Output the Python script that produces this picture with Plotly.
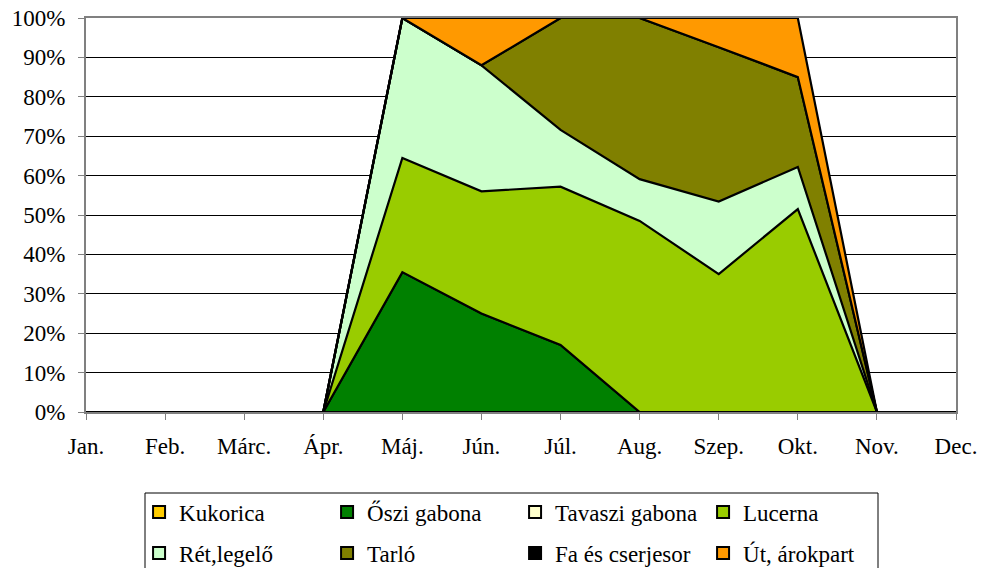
import plotly.graph_objects as go

months = ["Jan.", "Feb.", "Márc.", "Ápr.", "Máj.", "Jún.", "Júl.", "Aug.", "Szep.", "Okt.", "Nov.", "Dec."]

kukorica = [0, 0, 0, 0, 0, 0, 0, 0, 0, 0, 0, 0]
oszi_gabona = [0, 0, 0, 0, 35.5, 25, 17, 0, 0, 0, 0, 0]
tavaszi_gabona = [0, 0, 0, 0, 0, 0, 0, 0, 0, 0, 0, 0]
lucerna = [0, 0, 0, 0, 29, 31, 40.2, 48.5, 35, 51.5, 0, 0]
ret_legelo = [0, 0, 0, 0, 35.5, 32, 14.4, 10.6, 18.4, 10.7, 0, 0]
tarlo = [0, 0, 0, 0, 0, 0, 28.4, 40.9, 39.2, 22.8, 0, 0]
fa_cserjesor = [0, 0, 0, 0, 0, 0, 0, 0, 0, 0, 0, 0]
ut_arokpart = [0, 0, 0, 0, 0, 12, 0, 0, 7.4, 15, 0, 0]

series_names = ["Kukorica", "Őszi gabona", "Tavaszi gabona", "Lucerna",
                "Rét,legelő", "Tarló", "Fa és cserjesor", "Út, árokpart"]
series_values = [kukorica, oszi_gabona, tavaszi_gabona, lucerna,
                 ret_legelo, tarlo, fa_cserjesor, ut_arokpart]
series_colors = ["#FFCC00", "#008000", "#FFFFCC", "#99CC00",
                 "#CCFFCC", "#808000", "#000000", "#FF9900"]

FONT_FAMILY = "Liberation Serif, Times New Roman, serif"
font = dict(family=FONT_FAMILY, size=23, color="black")

fig = go.Figure()
x_idx = list(range(len(months)))
for name, vals, color in zip(series_names, series_values, series_colors):
    fig.add_trace(go.Scatter(
        x=x_idx, y=vals, name=name,
        mode="lines", stackgroup="one",
        line=dict(color="black", width=2.2),
        fillcolor=color, hoverinfo="skip", showlegend=False,
    ))

# legend-only square swatches, split into two rows (two legends)
for i, (name, color) in enumerate(zip(series_names, series_colors)):
    fig.add_trace(go.Scatter(
        x=[None], y=[None], name=name, mode="markers",
        marker=dict(symbol="square", size=12, color=color,
                    line=dict(color="black", width=2)),
        legend="legend" if i < 4 else "legend2",
        hoverinfo="skip",
    ))

legend_common = dict(
    orientation="h", xanchor="left", yanchor="middle",
    bgcolor="rgba(0,0,0,0)", borderwidth=0,
    entrywidth=143, entrywidthmode="pixels", itemwidth=30,
    font=font, traceorder="normal",
)

fig.update_layout(
    width=982, height=568,
    margin=dict(l=86, r=26, t=18, b=156, autoexpand=False),
    paper_bgcolor="white", plot_bgcolor="white",
    font=font,
    showlegend=True,
    legend=dict(x=0.061, y=(412 - 512) / 394, **legend_common),
    legend2=dict(x=0.061, y=(412 - 553) / 394, **legend_common),
    shapes=[dict(type="rect", xref="paper", yref="paper",
                 x0=(145 - 86) / 870, x1=(878 - 86) / 870,
                 y0=(412 - 575) / 394, y1=(412 - 493) / 394,
                 line=dict(color="black", width=1), fillcolor="rgba(0,0,0,0)",
                 layer="below")],
    xaxis=dict(
        tickmode="array", tickvals=x_idx, ticktext=months,
        range=[0, 11], showgrid=False, zeroline=False,
        showline=True, linecolor="#808080", linewidth=2, mirror=True,
        ticks="outside", ticklen=6, tickcolor="#808080", tickwidth=1,
        tickfont=font, ticklabelstandoff=6, fixedrange=True, automargin=False,
    ),
    yaxis=dict(
        range=[0, 100], tickvals=list(range(0, 101, 10)),
        ticktext=[f"{v}%" for v in range(0, 101, 10)],
        showgrid=True, gridcolor="black", gridwidth=1, zeroline=False,
        showline=True, linecolor="#808080", linewidth=2, mirror=True,
        ticks="outside", ticklen=6, tickcolor="#808080", tickwidth=1,
        tickfont=font, ticklabelstandoff=8, fixedrange=True, automargin=False,
    ),
)

# remove the default 8px body margin so the figure fills the window exactly
fig.write_html("out.html", config={"displayModeBar": False},
               post_script="document.body.style.margin='0';")
